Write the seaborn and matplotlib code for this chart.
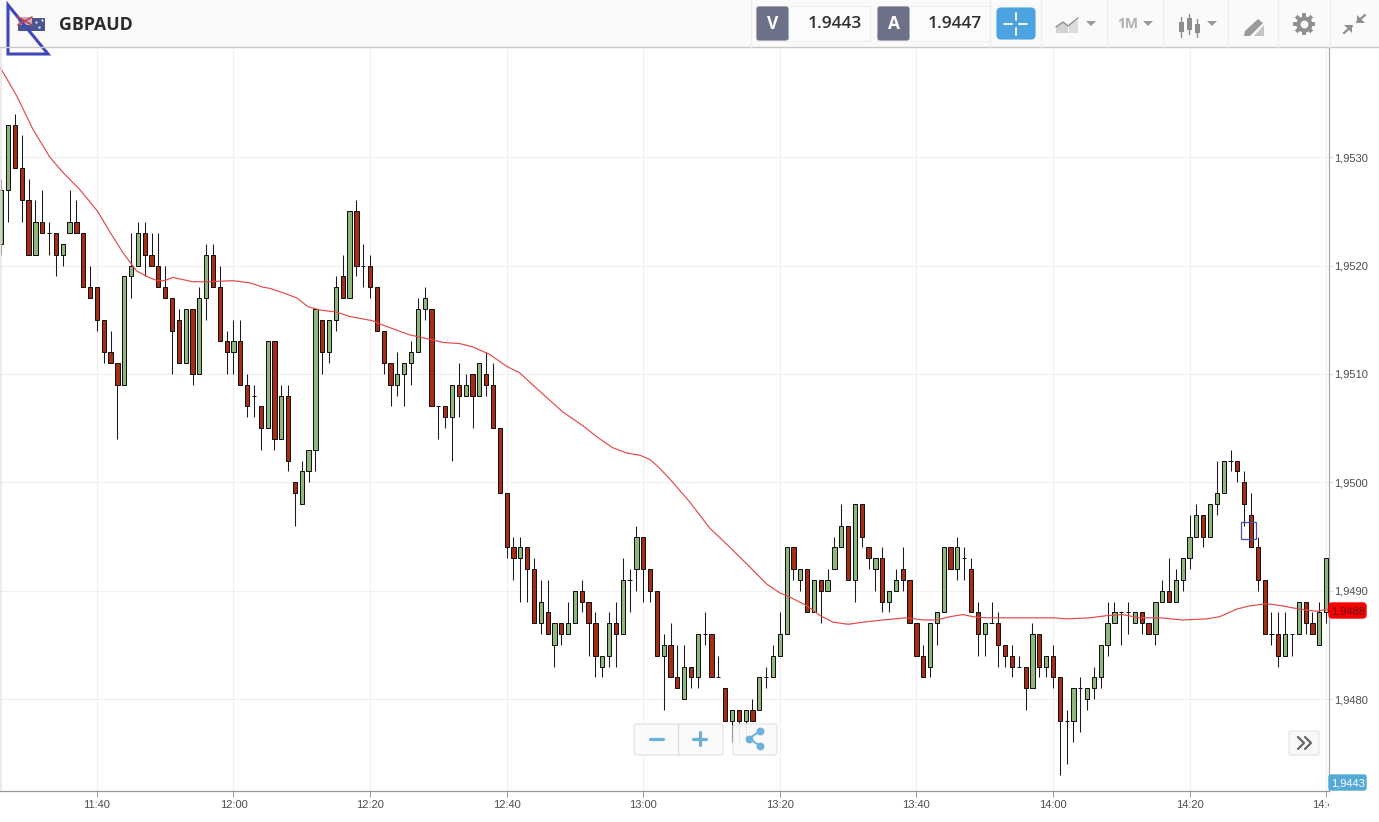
import matplotlib
matplotlib.use("Agg")
import numpy as np
import pandas as pd
import matplotlib.pyplot as plt
import seaborn as sns
from matplotlib.patches import Rectangle, FancyBboxPatch, Polygon
from matplotlib.transforms import Bbox

# Prices are stored as pips above 1.9400, one candle per minute from 11:26
BASE = 1.94
opens = [122,127,133,129,126,121,124,123,123,121,
         123,124,123,118,118,115,112,111,109,119,
         120,123,121,120,118,117,115,111,116,110,
         117,121,118,113,112,113,109,108,107,105,
         113,104,108,100,98,101,103,115,112,115,
         119,117,125,120,120,118,114,111,109,110,
         111,112,116,116,107,107,106,109,108,110,
         108,110,109,105,99,94,93,94,92,87,
         88,85,87,86,87,90,89,87,83,84,
         87,86,91,92,95,92,90,84,85,82,
         80,83,82,86,86,82,81,78,79,78,
         79,79,82,82,84,86,94,91,92,88,
         91,90,92,94,96,91,98,94,92,93,
         89,90,92,91,87,84,83,87,88,94,
         92,93,92,88,86,87,87,85,84,83,
         83,81,86,83,84,82,78,78,81,80,
         81,82,85,87,88,88,87,88,87,86,
         89,90,89,91,93,95,97,95,98,99,
         102,102,100,97,94,91,86,86,84,86,
         86,89,87,85,88]
highs = [128,133,134,132,128,126,127,124,123,122,
         127,126,123,120,118,115,114,111,119,123,
         124,124,123,123,120,117,116,116,116,118,
         122,122,120,114,115,115,110,109,107,113,
         113,109,109,100,102,103,116,115,115,119,
         121,125,126,122,121,118,114,111,112,111,
         113,117,118,116,107,107,109,111,110,110,
         111,112,111,105,99,95,95,94,93,91,
         91,87,87,89,90,91,89,88,84,88,
         89,93,92,96,95,92,90,86,87,85,
         85,83,86,88,86,84,81,79,79,79,
         80,82,83,85,88,94,94,92,92,91,
         91,92,95,98,96,98,98,94,93,94,
         90,92,94,91,87,85,87,88,94,94,
         95,94,93,89,87,89,88,85,85,84,
         83,87,86,84,85,82,79,81,82,81,
         83,85,89,89,88,89,88,88,87,89,
         91,93,92,93,97,98,97,98,102,102,
         103,102,101,99,95,91,88,88,88,86,
         89,89,88,89,93]
lows = [121,124,129,124,121,121,123,121,119,120,
        123,123,118,117,114,111,111,104,109,117,
        120,119,120,118,117,110,111,111,109,110,
        115,118,113,110,110,109,106,106,103,105,
        103,104,101,96,98,100,101,110,111,114,
        117,117,119,118,117,114,110,107,108,107,
        109,112,115,107,104,105,102,106,108,105,
        108,108,105,99,93,91,89,89,87,86,
        86,83,85,86,87,88,84,82,82,83,
        83,86,88,90,89,89,84,79,82,81,
        80,81,81,85,82,82,78,76,76,76,
        78,79,81,82,84,86,91,90,88,88,
        87,90,92,94,91,89,94,92,90,88,
        88,90,90,87,84,82,82,85,88,92,
        91,91,88,84,84,87,83,83,82,83,
        79,81,82,82,81,73,74,76,77,79,
        80,81,84,87,85,86,87,86,86,85,
        89,89,89,90,92,95,94,95,97,99,
        101,100,96,94,90,86,85,83,84,84,
        86,86,86,85,87]
closes = [127,133,129,126,121,124,123,123,121,122,
          124,123,118,117,115,112,111,109,119,120,
          123,121,120,118,117,114,111,116,110,117,
          121,118,113,112,113,109,107,108,105,113,
          104,108,102,99,101,103,116,112,115,118,
          117,125,120,120,118,114,111,109,110,111,
          112,116,117,107,107,106,109,108,109,108,
          111,109,105,99,94,93,94,92,87,89,
          86,87,86,87,90,89,87,84,84,87,
          86,91,91,95,92,90,84,85,82,81,
          83,82,86,86,82,82,78,79,78,79,
          78,82,82,84,86,94,92,92,88,91,
          90,91,94,96,91,98,95,93,93,89,
          90,91,91,87,84,82,87,88,94,92,
          94,93,88,86,87,87,85,84,83,83,
          81,86,83,84,82,78,78,81,81,81,
          82,85,87,88,88,88,88,87,86,89,
          90,89,91,93,95,97,95,98,99,102,
          102,101,98,94,91,86,86,84,86,86,
          89,87,86,88,93]

# Red moving average (minute, pips above 1.9400)
ma_minutes = [-0.2,2.3,4.6,7.1,9.0,11.5,14.1,15.9,17.8,19.8,21.3,22.8,23.9,25.1,26.6,28.0,
              30.1,33.9,36.4,38.3,39.3,41.2,43.3,44.9,46.6,49.1,51.0,54.4,55.9,59.8,62.7,
              64.7,67.1,69.0,71.5,74.0,75.9,77.8,79.9,82.2,85.2,87.2,89.5,91.6,93.5,95.0,
              96.4,97.9,100.8,103.7,106.7,109.6,112.1,114.0,115.5,118.0,119.9,121.8,124.0,
              126.2,129.1,132.6,135.0,137.0,138.9,140.8,142.3,144.3,147.7,151.0,154.0,156.0,
              159.4,161.9,164.2,166.7,169.6,173.0,176.5,178.4,180.9,182.8,185.3,187.6,190.1,
              192.6,194.3]
ma_values = [138.3,135.6,132.6,130.0,128.6,127.0,125.0,123.1,121.2,119.5,119.0,118.6,118.6,118.9,118.7,118.5,
             118.5,118.6,118.4,118.0,117.9,117.5,117.0,116.2,115.9,115.7,115.3,114.9,114.5,113.6,113.2,
             112.9,112.8,112.5,111.8,110.7,110.1,109.0,107.8,106.5,105.2,104.2,103.2,102.7,102.5,102.1,
             101.3,100.3,98.2,95.8,94.0,92.2,90.6,89.8,89.4,88.6,87.7,87.1,86.9,
             87.1,87.3,87.5,87.3,87.3,87.6,87.8,87.6,87.5,87.5,87.5,87.5,87.4,
             87.5,87.7,87.8,87.5,87.5,87.3,87.4,87.6,88.3,88.6,88.8,88.6,88.3,
             88.1,88.3]

time_ticks = [14, 34, 54, 74, 94, 114, 134, 154, 174, 194]
time_labels = ['11:40', '12:00', '12:20', '12:40', '13:00', '13:20', '13:40', '14:00', '14:20', '14:40']
price_ticks = [1.9480, 1.9490, 1.9500, 1.9510, 1.9520, 1.9530]

GREEN = '#8fb67c'
RED = '#a72c14'
UI_BLUE = '#6cb0dc'
LABEL = '#4d4d4d'
AXIS_FONT = 'Liberation Sans'
UI_FONT = 'Open Sans'

W, H = 1379, 822
sns.set_theme(style='white')
fig = plt.figure(figsize=(W / 100, H / 100), dpi=100, facecolor='white')
ax = fig.add_axes([0, (H - 791) / H, 1329 / W, (791 - 48) / H])

candles = pd.DataFrame({'minute': range(len(opens)), 'open': opens, 'high': highs,
                        'low': lows, 'close': closes})
for col in ['open', 'high', 'low', 'close']:
    candles[col] = BASE + candles[col] / 10000
ma = pd.DataFrame({'minute': ma_minutes, 'price': BASE + np.array(ma_values) / 10000})

# candles
ax.vlines(candles['minute'], candles['low'], candles['high'], color='#1a1a1a', lw=0.75, zorder=2)
body_low = candles[['open', 'close']].min(axis=1)
body_height = (candles['close'] - candles['open']).abs()
colors = [GREEN if c >= o else RED for o, c in zip(candles['open'], candles['close'])]
ax.bar(candles['minute'], body_height, bottom=body_low, width=0.62, color=colors,
       edgecolor='#111111', linewidth=0.72, zorder=3)

# moving average
sns.lineplot(data=ma, x='minute', y='price', color='#e5484a', lw=0.85, estimator=None,
             sort=False, ax=ax, zorder=4)

ax.set_xlim(-1.3 / 6.829, 1327.7 / 6.829)
ax.set_ylim(BASE + (100 - 308.7 / 10.84) / 10000, BASE + (100 + 434.3 / 10.84) / 10000)
ax.set_xticks(time_ticks)
ax.set_xticklabels(time_labels, fontfamily=AXIS_FONT, fontsize=8, color=LABEL)
ax.yaxis.tick_right()
ax.set_yticks(price_ticks)
ax.set_yticklabels([f'{p:.4f}'.replace('.', ',') for p in price_ticks],
                   fontfamily=AXIS_FONT, fontsize=8, color=LABEL)
ax.tick_params(axis='x', length=4, width=0.7, color='#999999', pad=2.5, bottom=True)
ax.tick_params(axis='y', length=3, width=0.7, color='#dddddd', pad=1, right=True)
ax.grid(True, color='#f0f0f0', lw=0.8)
ax.set_axisbelow(True)
ax.set_xlabel('')
ax.set_ylabel('')
for side in ['top', 'left']:
    ax.spines[side].set_visible(False)
ax.spines['right'].set_color('#aaaaaa')
ax.spines['bottom'].set_color('#999999')
ax.spines['right'].set_linewidth(0.9)
ax.spines['bottom'].set_linewidth(0.9)

# the last time label is cut by the price axis
last = ax.get_xticklabels()[-1]
last.set_clip_on(True)
last.set_clip_box(Bbox([[1200, 0], [1329, 60]]))

# everything around the chart, drawn in pixel coordinates
ui = fig.add_axes([0, 0, 1, 1], facecolor='none')
ui.set_xlim(0, W)
ui.set_ylim(H, 0)
ui.axis('off')

ui.add_patch(Rectangle((0, 48), 2, 743, color='#e4e4e4', alpha=0.7, lw=0))
ui.add_patch(Rectangle((0, 0), W, 47, color='#fafafa', lw=0))
ui.plot([0, W], [47.5, 47.5], color='#c8c8c8', lw=1)
ui.plot([0, W], [821.5, 821.5], color='#e2e2e2', lw=1)

# flag and symbol
ui.add_patch(Rectangle((18, 18), 27, 13, color='#4a5590', lw=0))
ui.add_patch(Rectangle((18, 17), 14, 8, color='#c4b2c2', lw=0))
ui.plot([18, 32], [17, 25], color='#c8414b', lw=1.2)
ui.plot([18, 32], [25, 17], color='#c8414b', lw=1.2)
ui.scatter([36, 42, 39], [22, 20, 27], s=3, color='#d8d8ee', lw=0)
ui.text(59, 25, 'GBPAUD', fontfamily=UI_FONT, fontweight='bold', fontsize=12.8, color='#2b2b2b', va='center')
ui.add_patch(Polygon([(8, 5), (8, 54), (48, 54)], closed=True, fill=False, edgecolor='#3f48b8', lw=2.2))

# bid / ask boxes
for left, letter, value, right in [(756, 'V', '1.9443', 870), (877, 'A', '1.9447', 990)]:
    ui.add_patch(Rectangle((left, 6), right - left, 35, facecolor='#fbfbfb', edgecolor='#eeeeee', lw=0.8))
    ui.add_patch(FancyBboxPatch((left + 1, 7), 31, 33, boxstyle='round,pad=0,rounding_size=2',
                                facecolor='#6d7187', edgecolor='#6d7187', lw=0.8))
    ui.text(left + 17, 24, letter, fontfamily=UI_FONT, fontweight='bold', fontsize=12.5, color='white',
            ha='center', va='center')
    ui.text(right - 8, 24, value, fontfamily=UI_FONT, fontweight='semibold', fontsize=12.4, color='#2f2f2f',
            ha='right', va='center')

ui.add_patch(FancyBboxPatch((997, 8), 38, 31, boxstyle='round,pad=0,rounding_size=4',
                            facecolor='#4da2e0', edgecolor='#4da2e0', lw=0.8))
for x0, y0, x1, y1 in [(1004, 24, 1012, 24), (1019, 24, 1027, 24), (1015.5, 13, 1015.5, 20), (1015.5, 28, 1015.5, 35)]:
    ui.plot([x0, x1], [y0, y1], color='white', lw=1.3)

for x in [751, 990, 1041, 1107, 1163, 1228, 1278, 1330]:
    ui.plot([x, x], [0, 47], color='#ececec', lw=0.9)

# toolbar icons
for x in [1091, 1148, 1212]:
    ui.add_patch(Polygon([(x - 5, 21), (x + 5, 21), (x, 26)], color='#999999', lw=0))
ui.add_patch(Polygon([(1056, 33), (1056, 27), (1063, 22), (1068, 26), (1068, 33)], color='#d3d3d3', lw=0))
ui.add_patch(Polygon([(1069, 33), (1069, 24), (1078, 20), (1078, 33)], color='#dcdcdc', lw=0))
ui.plot([1056, 1063, 1068, 1073, 1078], [27, 22, 26, 22, 18], color='#909090', lw=1)
ui.text(1128, 24, '1M', fontfamily=UI_FONT, fontweight='bold', fontsize=10, color='#b0b0b0', ha='center', va='center')
for x, y0, y1, b0, b1 in [(1181, 17, 37, 22, 32), (1189, 14, 34, 18, 30), (1197, 19, 37, 24, 33)]:
    ui.plot([x, x], [y0, y1], color='#8d8d8d', lw=1)
    ui.add_patch(Rectangle((x - 2.5, b0), 5, b1 - b0, color='#8d8d8d', lw=0))
ui.add_patch(Polygon([(1245, 31), (1258, 19), (1263, 23), (1250, 36), (1244, 36)], color='#9a9a9a', lw=0))
ui.add_patch(Polygon([(1254, 36), (1264, 25), (1264, 36)], color='#c4c4c4', lw=0))
# gear
for a in np.arange(8) * np.pi / 4:
    ui.plot([1304, 1304 + 11 * np.cos(a)], [24, 24 + 11 * np.sin(a)], color='#8f8f8f', lw=2.8,
            solid_capstyle='butt')
ui.scatter([1304], [24], s=135, color='#8f8f8f', lw=0, zorder=4)
ui.scatter([1304], [24], s=32, color='#fafafa', lw=0, zorder=5)
ui.plot([1344, 1352], [33, 26], color='#8f8f8f', lw=1.6)
ui.plot([1357, 1365], [22, 15], color='#8f8f8f', lw=1.6)
ui.add_patch(Polygon([(1344, 25), (1352, 25), (1352, 33)], color='#8f8f8f', lw=0))
ui.add_patch(Polygon([(1357, 15), (1357, 23), (1365, 23)], color='#8f8f8f', lw=0))

# floating buttons
for x0, w in [(634, 89), (733, 44)]:
    ui.add_patch(FancyBboxPatch((x0, 724), w, 31, boxstyle='round,pad=0,rounding_size=3',
                                facecolor='#fafafa', edgecolor='#e4e4e4', lw=1, alpha=0.92, zorder=6))
ui.plot([677.5, 677.5], [724, 755], color='#dddddd', lw=0.9, zorder=7)
ui.plot([650, 663], [738.5, 738.5], color=UI_BLUE, lw=2.3, zorder=7)
ui.plot([693, 706], [738.5, 738.5], color=UI_BLUE, lw=2.3, zorder=7)
ui.plot([699.5, 699.5], [732, 745], color=UI_BLUE, lw=2.3, zorder=7)
ui.plot([760, 749, 760], [731, 738.5, 746], color=UI_BLUE, lw=1.4, zorder=7)
ui.scatter([760, 749, 760], [731, 738.5, 746], s=32, color=UI_BLUE, lw=0, zorder=7)
ui.add_patch(FancyBboxPatch((1289, 731), 30, 24, boxstyle='round,pad=0,rounding_size=2',
                            facecolor='#f8f8f8', edgecolor='#e6e6e6', lw=0.9, zorder=6))
ui.plot([1298, 1304, 1298], [737, 743, 749], color='#666666', lw=1.6, zorder=7)
ui.plot([1305, 1311, 1305], [737, 743, 749], color='#666666', lw=1.6, zorder=7)

# price tags and hover marker
ui.add_patch(Rectangle((1240.5, 522), 15, 16.5, fill=False, edgecolor='#4a4fa8', lw=0.9, zorder=6))
ui.add_patch(FancyBboxPatch((1329, 603), 37, 15, boxstyle='round,pad=0,rounding_size=3',
                            facecolor='#fb0000', edgecolor='#fb0000', lw=1, zorder=6))
ui.text(1348, 611, '1,9488', fontfamily=AXIS_FONT, fontsize=8, color='#5a2020', ha='center', va='center', zorder=7)
ui.add_patch(FancyBboxPatch((1329, 775), 37, 15, boxstyle='round,pad=0,rounding_size=2',
                            facecolor='#55a9d6', edgecolor='#55a9d6', lw=1, zorder=6))
ui.text(1348, 783, '1,9443', fontfamily=AXIS_FONT, fontsize=8, color='white', ha='center', va='center', zorder=7)

fig.savefig('out.png', dpi=100, facecolor='white')
